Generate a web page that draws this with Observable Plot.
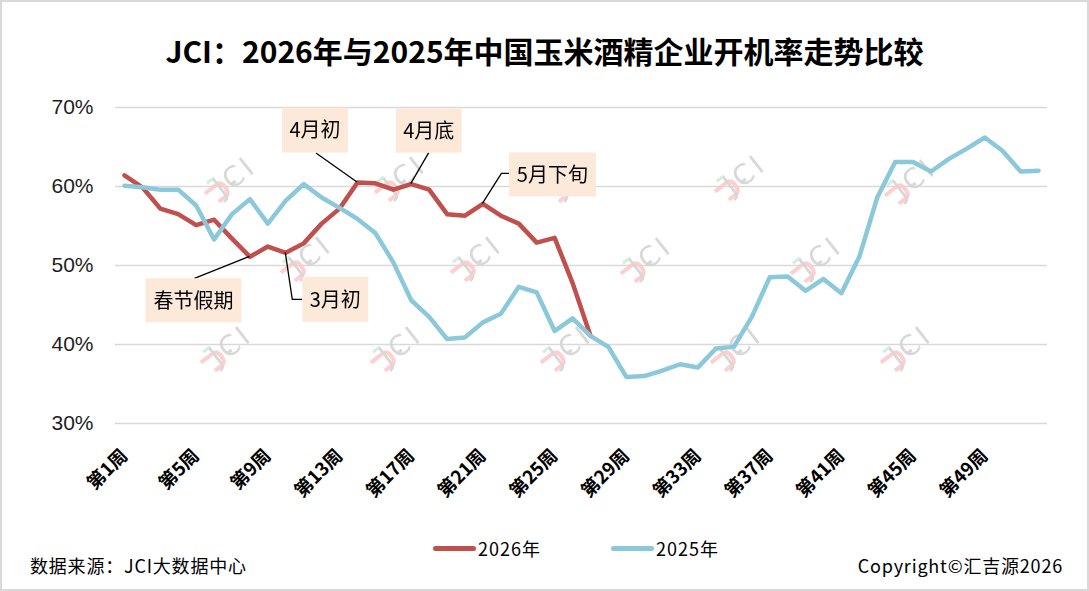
<!DOCTYPE html>
<html><head><meta charset="utf-8">
<script src="https://cdn.jsdelivr.net/npm/d3@7"></script>
<script src="https://cdn.jsdelivr.net/npm/@observablehq/plot@0.6"></script>
<style>
body{margin:0;background:#fff;}
#wrap{position:relative;width:1089px;height:591px;overflow:hidden;background:#fff;font-family:"Noto Sans CJK SC","Noto Sans",sans-serif;}
#frame{position:absolute;left:0;top:0;width:1089px;height:591px;box-sizing:border-box;border:2px solid #d9d9d9;pointer-events:none;z-index:5;}
#title{position:absolute;left:0;width:1089px;top:35px;line-height:30px;text-align:center;font-size:30px;font-weight:bold;color:#000;}
#chart{position:absolute;left:0;top:0;}
#legend{position:absolute;left:433px;top:537px;font-size:18px;line-height:22px;letter-spacing:1px;color:#000;display:flex;align-items:center;}
.item{display:flex;align-items:center;margin-right:70px;}
.sw{width:43px;height:5px;border-radius:3px;margin-right:2px;}
.foot{position:absolute;top:553px;font-size:18px;line-height:24px;letter-spacing:0.8px;color:#000;}
</style></head>
<body><div id="wrap">
<div id="title">JCI：2026年与2025年中国玉米酒精企业开机率走势比较</div>
<div id="chart"></div>
<div id="legend"></div>
<div class="foot" style="left:30px">数据来源：JCI大数据中心</div>
<div class="foot" style="right:26px">Copyright©汇吉源2026</div>
<div id="frame"></div>
</div>
<script>
// ---- data ----
const weeks = Array.from({length: 52}, (_, i) => `第${i + 1}周`);
const tickWeeks = ["第1周","第5周","第9周","第13周","第17周","第21周","第25周","第29周","第33周","第37周","第41周","第45周","第49周"];
const yTicks = [30, 40, 50, 60, 70];
const seriesNames = ["2026年", "2025年"];
const values2026 = [61.4, 59.9, 57.2, 56.5, 55.1, 55.8, 53.4, 51.1, 52.4, 51.6, 52.8, 55.3, 57.2, 60.5, 60.4, 59.6, 60.3, 59.6, 56.5, 56.3, 57.8, 56.3, 55.3, 52.9, 53.5, 47.8, 41.1];
const values2025 = [60.1, 59.9, 59.6, 59.6, 57.6, 53.3, 56.5, 58.4, 55.3, 58.2, 60.3, 58.6, 57.3, 55.9, 54.1, 50.4, 45.6, 43.5, 40.7, 40.9, 42.8, 43.9, 47.3, 46.6, 41.7, 43.3, 41.1, 39.7, 35.9, 36.0, 36.7, 37.5, 37.1, 39.5, 39.7, 43.5, 48.5, 48.6, 46.8, 48.3, 46.5, 51.1, 58.6, 63.1, 63.1, 61.9, 63.5, 64.8, 66.2, 64.5, 61.9, 62.0];
const annoLabels = ["春节假期", "3月初", "4月初", "4月底", "5月下旬"];
const annoWeeks = [8, 10, 14, 17, 21];

// ---- style ----
const colors = ["#c0504d", "#8bc8da"];
const annoStyle = [
  {dx: -56, dy: 44, w: 96, h: 44, path: [[0,0],[-55,22]]},
  {dx: 50, dy: 47, w: 66, h: 45, path: [[0,0],[7,47],[17,47]]},
  {dx: -42, dy: -52, w: 66, h: 45, path: [[0,0],[-41,-29]]},
  {dx: 18, dy: -53, w: 66, h: 44, path: [[0,0],[18,-31]]},
  {dx: 70, dy: -29, w: 87, h: 44, path: [[0,0],[19,-30],[27,-30]]}
];
const FONT = '"Noto Sans CJK SC","Noto Sans",sans-serif';

const rows2026 = values2026.map((v, i) => ({week: weeks[i], value: v}));
const rows2025 = values2025.map((v, i) => ({week: weeks[i], value: v}));

const chart = Plot.plot({
  width: 1089, height: 520,
  marginLeft: 115, marginRight: 42, marginTop: 107, marginBottom: 97,
  style: {background: "transparent", fontFamily: FONT, overflow: "visible"},
  x: {type: "point", domain: weeks, padding: 0.5, axis: null},
  y: {domain: [30, 70], axis: null},
  marks: [
    Plot.gridY(yTicks, {stroke: "#d9d9d9", strokeOpacity: 1, strokeWidth: 1.6}),
    Plot.axisY(yTicks, {label: null, tickSize: 0, tickPadding: 22, tickFormat: d => d + "%", fontSize: 21, fill: "#1e1e1e", fontFamily: '"Liberation Sans",Arial,sans-serif'}),
    Plot.text(tickWeeks, {x: d => d, frameAnchor: "bottom", rotate: -45, textAnchor: "end", lineAnchor: "top", dx: -5, dy: 24, fontSize: 18.5, fontWeight: "bold", fill: "#000"}),
    Plot.line(rows2026, {x: "week", y: "value", stroke: colors[0], strokeWidth: 4.5, strokeLinejoin: "round"}),
    Plot.line(rows2025, {x: "week", y: "value", stroke: colors[1], strokeWidth: 4.5, strokeLinejoin: "round"})
  ]
});
document.getElementById("chart").appendChild(chart);

// watermarks (decoration) behind lines
const svg = d3.select(chart);
const wmPos = [[217,188],[387,187],[557,188],[727,186],[897,190],[293,267],[463,267],[633,268],[803,268],[213,357],[383,357],[553,357],[723,357],[893,357]];
const wm = svg.insert("g", 'g[aria-label="line"]').attr("opacity", 0.9);
wmPos.forEach(([x, y]) => {
  const g = wm.append("g").attr("transform", `translate(${x},${y}) rotate(-38)`);
  g.append("path").attr("d", "M-13,-3 L1,-3 Q7,-3 7,3 L7,6 Q7,12 1,12 L-7,12").attr("fill", "none").attr("stroke", "#ffc9c9").attr("stroke-width", 4);
  g.append("line").attr("x1", -5).attr("y1", -10).attr("x2", 4).attr("y2", -10).attr("stroke", "#cfeedd").attr("stroke-width", 3);
  g.append("line").attr("x1", 13).attr("y1", 6).attr("x2", 19).attr("y2", 6).attr("stroke", "#d4d4d4").attr("stroke-width", 3);
  g.append("text").attr("x", 21).attr("y", 11).attr("font-size", 28).attr("font-family", "DejaVu Sans").attr("fill", "#d4d4d4").attr("letter-spacing", 3).text("JCI");
});

// annotations anchored to 2026 data points
const xs = chart.scale("x"), ys = chart.scale("y");
const ann = svg.append("g");
annoLabels.forEach((label, i) => {
  const w = weeks[annoWeeks[i] - 1];
  const px = xs.apply(w), py = ys.apply(values2026[annoWeeks[i] - 1]);
  const s = annoStyle[i];
  ann.append("path").attr("d", "M" + s.path.map(([a, b]) => `${px + a},${py + b}`).join("L"))
    .attr("fill", "none").attr("stroke", "#000").attr("stroke-width", 1.3);
  ann.append("rect").attr("x", px + s.dx - s.w / 2).attr("y", py + s.dy - s.h / 2).attr("width", s.w).attr("height", s.h).attr("fill", "#fde9d9");
  ann.append("text").attr("x", px + s.dx).attr("y", py + s.dy).attr("dy", "0.36em").attr("text-anchor", "middle")
    .attr("font-size", 20).attr("font-family", FONT).attr("fill", "#000").text(label);
});

// legend
const leg = d3.select("#legend");
seriesNames.forEach((n, i) => {
  const it = leg.append("div").attr("class", "item");
  it.append("div").attr("class", "sw").style("background", colors[i]);
  it.append("span").text(n);
});
</script>
</body></html>
